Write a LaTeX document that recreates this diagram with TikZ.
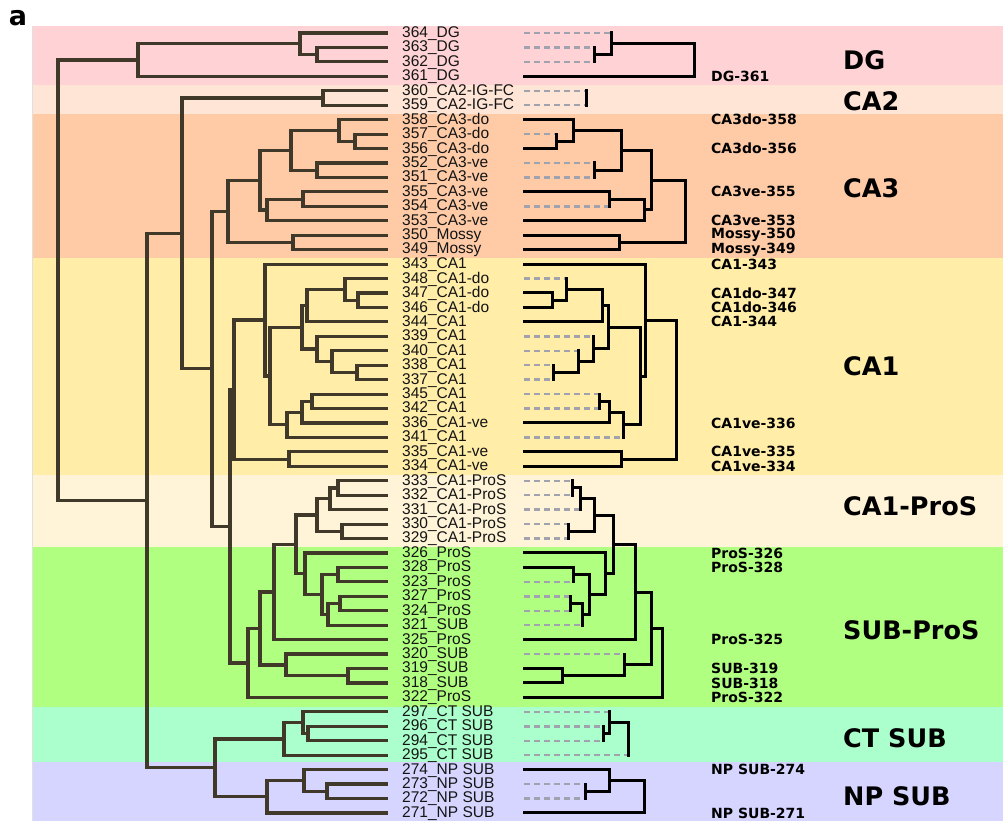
\documentclass[tikz,border=0pt]{standalone}
\usepackage{fontspec}
\setmainfont{Liberation Sans}
\newfontfamily\vb{DejaVu Sans}
\usetikzlibrary{calc}
\definecolor{cDG}{HTML}{FFD3D5}
\definecolor{cCAtwo}{HTML}{FFE5D5}
\definecolor{cCAthree}{HTML}{FFCBA6}
\definecolor{cCAone}{HTML}{FFEDA8}
\definecolor{cPro}{HTML}{FFF4D8}
\definecolor{cSUB}{HTML}{B1FF80}
\definecolor{cCT}{HTML}{AAFFCC}
\definecolor{cNP}{HTML}{D5D5FF}
\definecolor{ltree}{RGB}{64,56,40}
\definecolor{dgray}{RGB}{160,163,174}
\tikzset{
  lt/.style={draw=ltree,line width=3.2pt,line join=miter},
  rs/.style={draw=black,line width=3pt,line cap=rect},
  rd/.style={draw=dgray,line width=2.5pt,dash pattern=on 6pt off 4pt},
  leaf/.style={anchor=west,inner sep=0pt,font=\fontsize{15.5}{15.5}\selectfont,text=black!92},
  rlab/.style={anchor=west,inner sep=0pt,font=\vb\bfseries\fontsize{14}{14}\selectfont},
  glab/.style={anchor=west,inner sep=0pt,font=\vb\bfseries\fontsize{25.5}{25.5}\selectfont},
}
\newcommand\lj[4]{%
  \path let \p1=($(#3)!.5!(#4)$) in (#2pt,\y1) coordinate (#1);
  \draw[lt] (#3) -| (#1) |- (#4);}
\newcommand\rj[6]{%
  \path let \p1=($(#3)!.5!(#4)$) in (#2pt,\y1) coordinate (#1);
  \draw[#5] (#3) -- (#3 -| #1);
  \draw[#6] (#4) -- (#4 -| #1);
  \draw[rs] (#3 -| #1) -- (#4 -| #1);}
\begin{document}
\begin{tikzpicture}[x=1pt,y=-1pt]
\useasboundingbox (0,0) rectangle (1003,821);
% bands
\fill[cDG] (32,26) rectangle (1003,85);
\fill[cCAtwo] (32,85) rectangle (1003,114);
\fill[cCAthree] (32,114) rectangle (1003,258);
\fill[cCAone] (32,258) rectangle (1003,475);
\fill[cPro] (32,475) rectangle (1003,547);
\fill[cSUB] (32,547) rectangle (1003,707);
\fill[cCT] (32,707) rectangle (1003,762);
\fill[cNP] (32,762) rectangle (1003,821);
\draw[black!12,line width=0.8pt] (32,26) -- (32,821);
\node[font=\vb\bfseries\fontsize{27}{27}\selectfont,inner sep=0pt] (panel) at (18,18) {a};
% leaves
\foreach \id/\nm [count=\i from 0] in {364/DG,363/DG,362/DG,361/DG,360/CA2-IG-FC,359/CA2-IG-FC,
358/CA3-do,357/CA3-do,356/CA3-do,352/CA3-ve,351/CA3-ve,355/CA3-ve,354/CA3-ve,353/CA3-ve,350/Mossy,349/Mossy,
343/CA1,348/CA1-do,347/CA1-do,346/CA1-do,344/CA1,339/CA1,340/CA1,338/CA1,337/CA1,345/CA1,342/CA1,336/CA1-ve,341/CA1,335/CA1-ve,334/CA1-ve,
333/CA1-ProS,332/CA1-ProS,331/CA1-ProS,330/CA1-ProS,329/CA1-ProS,
326/ProS,328/ProS,323/ProS,327/ProS,324/ProS,321/SUB,325/ProS,320/SUB,319/SUB,318/SUB,322/ProS,
297/CT SUB,296/CT SUB,294/CT SUB,295/CT SUB,274/NP SUB,273/NP SUB,272/NP SUB,271/NP SUB}{
  \node[leaf] (t\id) at (402,{33.5+14.444*\i}) {\id\_\nm};
  \coordinate (l\id) at (388,{33+14.444*\i});
  \coordinate (r\id) at (524,{33+14.444*\i});
}
% left dendrogram
\lj{a1}{317}{l363}{l362}
\lj{a2}{300}{l364}{a1}
\lj{a3}{138}{a2}{l361}
\lj{b1}{323}{l360}{l359}
\lj{c1}{355}{l357}{l356}
\lj{c2}{339}{l358}{c1}
\lj{c3}{317}{l352}{l351}
\lj{c4}{291}{c2}{c3}
\lj{c5}{303}{l355}{l354}
\lj{c6}{267}{c5}{l353}
\lj{c7}{260}{c4}{c6}
\lj{c8}{293}{l350}{l349}
\lj{c9}{228}{c7}{c8}
\lj{d1}{358}{l347}{l346}
\lj{d2}{345}{l348}{d1}
\lj{d3}{307}{d2}{l344}
\lj{d4}{357}{l338}{l337}
\lj{d5}{332}{l340}{d4}
\lj{d6}{317}{l339}{d5}
\lj{d7}{302}{d3}{d6}
\lj{d8}{312}{l345}{l342}
\lj{d9}{302}{d8}{l336}
\lj{d10}{287}{d9}{l341}
\lj{d11}{270}{d7}{d10}
\lj{d12}{265}{l343}{d11}
\lj{d13}{289}{l335}{l334}
\lj{d14}{234}{d12}{d13}
\lj{e1}{338}{l333}{l332}
\lj{e2}{330}{e1}{l331}
\lj{e3}{342}{l330}{l329}
\lj{e4}{317}{e2}{e3}
\lj{f1}{338}{l328}{l323}
\lj{f2}{340}{l327}{l324}
\lj{f3}{328}{f2}{l321}
\lj{f4}{322}{f1}{f3}
\lj{f5}{305}{l326}{f4}
\lj{f6}{296}{e4}{f5}
\lj{f7}{274}{f6}{l325}
\lj{f8}{348}{l319}{l318}
\lj{f9}{286}{l320}{f8}
\lj{f10}{260}{f7}{f9}
\lj{f11}{248}{f10}{l322}
\lj{g1}{230}{d14}{f11}
\lj{g2}{212}{c9}{g1}
\lj{g3}{182}{b1}{g2}
\lj{h1}{308}{l296}{l294}
\lj{h2}{303}{l297}{h1}
\lj{h3}{284}{h2}{l295}
\lj{h4}{327}{l273}{l272}
\lj{h5}{304}{l274}{h4}
\lj{h6}{267}{h5}{l271}
\lj{h7}{215}{h3}{h6}
\lj{g4}{147}{g3}{h7}
\lj{root}{58}{a3}{g4}
% right dendrogram
\rj{A1}{594.5}{r363}{r362}{rd}{rd}
\rj{A2}{611.6}{r364}{A1}{rd}{rs}
\rj{A3}{694}{A2}{r361}{rs}{rs}
\rj{B1}{586.6}{r360}{r359}{rd}{rd}
\rj{C1}{556.8}{r357}{r356}{rd}{rs}
\rj{C2}{573.5}{r358}{C1}{rs}{rs}
\rj{C3}{594.5}{r352}{r351}{rd}{rd}
\rj{C4}{621}{C2}{C3}{rs}{rs}
\rj{C5}{609.2}{r355}{r354}{rs}{rd}
\rj{C6}{644.2}{C5}{r353}{rs}{rs}
\rj{C7}{651.4}{C4}{C6}{rs}{rs}
\rj{C8}{619.6}{r350}{r349}{rs}{rs}
\rj{C9}{685}{C7}{C8}{rs}{rs}
\rj{D1}{552}{r347}{r346}{rs}{rs}
\rj{D2}{566}{r348}{D1}{rd}{rs}
\rj{D3}{602.5}{D2}{r344}{rs}{rs}
\rj{D4}{553.6}{r338}{r337}{rd}{rd}
\rj{D5}{578.7}{r340}{D4}{rd}{rs}
\rj{D6}{593.3}{r339}{D5}{rd}{rs}
\rj{D7}{608.4}{D3}{D6}{rs}{rs}
\rj{D8}{599.3}{r345}{r342}{rd}{rd}
\rj{D9}{609.6}{D8}{r336}{rs}{rs}
\rj{D10}{623.5}{D9}{r341}{rs}{rd}
\rj{D11}{640.2}{D7}{D10}{rs}{rs}
\rj{D12}{645}{r343}{D11}{rs}{rs}
\rj{D13}{621.6}{r335}{r334}{rs}{rs}
\rj{D14}{676}{D12}{D13}{rs}{rs}
\rj{E1}{572}{r333}{r332}{rd}{rd}
\rj{E2}{580.6}{E1}{r331}{rs}{rd}
\rj{E3}{568}{r330}{r329}{rd}{rd}
\rj{E4}{594.5}{E2}{E3}{rs}{rs}
\rj{F1}{573.5}{r328}{r323}{rs}{rd}
\rj{F2}{570.7}{r327}{r324}{rd}{rd}
\rj{F3}{582.6}{F2}{r321}{rs}{rd}
\rj{F4}{589.4}{F1}{F3}{rs}{rs}
\rj{F5}{605.7}{r326}{F4}{rs}{rs}
\rj{F6}{613.6}{E4}{F5}{rs}{rs}
\rj{F7}{635.5}{F6}{r325}{rs}{rs}
\rj{F8}{562}{r319}{r318}{rs}{rs}
\rj{F9}{624.3}{r320}{F8}{rd}{rs}
\rj{F10}{651}{F7}{F9}{rs}{rs}
\rj{F11}{662.9}{F10}{r322}{rs}{rs}
\rj{H1}{603.7}{r296}{r294}{rd}{rd}
\rj{H2}{609.2}{r297}{H1}{rd}{rs}
\rj{H3}{628.3}{H2}{r295}{rs}{rd}
\rj{H4}{585.8}{r273}{r272}{rd}{rd}
\rj{H5}{609.2}{r274}{H4}{rs}{rs}
\rj{H6}{644.2}{H5}{r271}{rs}{rs}
% right labels
\foreach \id/\txt in {361/DG-361,358/CA3do-358,356/CA3do-356,355/CA3ve-355,353/CA3ve-353,350/Mossy-350,349/Mossy-349,
343/CA1-343,347/CA1do-347,346/CA1do-346,344/CA1-344,336/CA1ve-336,335/CA1ve-335,334/CA1ve-334,
326/ProS-326,328/ProS-328,325/ProS-325,319/SUB-319,318/SUB-318,322/ProS-322,274/NP SUB-274,271/NP SUB-271}{
  \node[rlab] (q\id) at (r\id -| 711,0) {\txt};
}
% group labels
\node[glab] (gDG) at (843,60) {DG};
\node[glab] (gCA2) at (843,101.7) {CA2};
\node[glab] (gCA3) at (843,188) {CA3};
\node[glab] (gCA1) at (843,366.7) {CA1};
\node[glab] (gPro) at (843,506.7) {CA1-ProS};
\node[glab] (gSUB) at (843,630) {SUB-ProS};
\node[glab] (gCT) at (843,738.3) {CT SUB};
\node[glab] (gNP) at (843,796.7) {NP SUB};
\end{tikzpicture}
\end{document}
